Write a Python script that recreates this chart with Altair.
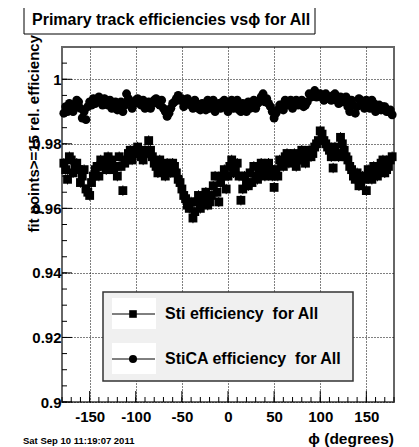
import altair as alt
import pandas as pd

# ---- data ----
phi_a = [-178, -174, -170, -166, -162, -158, -154, -150, -146, -142,
         -138, -134, -130, -126, -122, -118, -114, -110, -106, -102,
         -98, -94, -90, -86, -82, -78, -74, -70, -66, -62,
         -58, -54, -50, -46, -42, -38, -34, -30, -26, -22,
         -18, -14, -10, -6, -2, 2, 6, 10, 14, 18,
         22, 26, 30, 34, 38, 42, 46, 50, 54, 58,
         62, 66, 70, 74, 78, 82, 86, 90, 94, 98,
         102, 106, 110, 114, 118, 122, 126, 130, 134, 138,
         142, 146, 150, 154, 158, 162, 166, 170, 174, 178]

phi_b = [-176, -172, -168, -164, -160, -156, -152, -148, -144, -140,
         -136, -132, -128, -124, -120, -116, -112, -108, -104, -100,
         -96, -92, -88, -84, -80, -76, -72, -68, -64, -60,
         -56, -52, -48, -44, -40, -36, -32, -28, -24, -20,
         -16, -12, -8, -4, 0, 4, 8, 12, 16, 20,
         24, 28, 32, 36, 40, 44, 48, 52, 56, 60,
         64, 68, 72, 76, 80, 84, 88, 92, 96, 100,
         104, 108, 112, 116, 120, 124, 128, 132, 136, 140,
         144, 148, 152, 156, 160, 164, 168, 172, 176]

sti_eff_a = [0.974, 0.969, 0.975, 0.973, 0.972, 0.970, 0.966, 0.964, 0.970, 0.973,
             0.975, 0.974, 0.976, 0.975, 0.973, 0.976, 0.9655, 0.975, 0.978, 0.977,
             0.979, 0.976, 0.978, 0.981, 0.976, 0.973, 0.975, 0.972, 0.974, 0.971,
             0.973, 0.969, 0.966, 0.963, 0.960, 0.957, 0.962, 0.960, 0.963, 0.961,
             0.964, 0.970, 0.962, 0.970, 0.966, 0.973, 0.971, 0.974, 0.9625, 0.970,
             0.967, 0.968, 0.970, 0.972, 0.971, 0.973, 0.972, 0.9665, 0.970, 0.974,
             0.976, 0.974, 0.975, 0.973, 0.976, 0.975, 0.977, 0.976, 0.979, 0.981,
             0.983, 0.980, 0.978, 0.9725, 0.977, 0.982, 0.978, 0.975, 0.972, 0.969,
             0.967, 0.970, 0.9655, 0.971, 0.973, 0.970, 0.974, 0.971, 0.973, 0.976]

sti_eff_b = [0.972, 0.976, 0.971, 0.974, 0.968, 0.972, 0.965, 0.968, 0.972, 0.970,
             0.973, 0.972, 0.974, 0.972, 0.970, 0.973, 0.974, 0.977, 0.975, 0.978,
             0.977, 0.975, 0.977, 0.978, 0.974, 0.971, 0.973, 0.970, 0.972, 0.974,
             0.971, 0.968, 0.964, 0.961, 0.962, 0.959, 0.964, 0.962, 0.965, 0.962,
             0.967, 0.965, 0.968, 0.972, 0.970, 0.975, 0.972, 0.970, 0.966, 0.968,
             0.971, 0.973, 0.969, 0.974, 0.970, 0.974, 0.970, 0.972, 0.975, 0.973,
             0.977, 0.976, 0.977, 0.975, 0.978, 0.974, 0.978, 0.977, 0.980, 0.984,
             0.981, 0.979, 0.976, 0.979, 0.976, 0.980, 0.976, 0.973, 0.970, 0.971,
             0.968, 0.969, 0.972, 0.969, 0.972, 0.972, 0.975, 0.972, 0.975]

stica_eff_a = [0.9895, 0.990, 0.992, 0.9915, 0.993, 0.988, 0.9875, 0.993, 0.994, 0.9935,
               0.993, 0.994, 0.992, 0.991, 0.993, 0.9915, 0.990, 0.9955, 0.993, 0.9925,
               0.994, 0.992, 0.991, 0.993, 0.9925, 0.994, 0.992, 0.991, 0.9885, 0.991,
               0.993, 0.995, 0.994, 0.9925, 0.993, 0.991, 0.9925, 0.9905, 0.992, 0.9935,
               0.992, 0.990, 0.9925, 0.993, 0.9915, 0.9925, 0.991, 0.9935, 0.990, 0.9915,
               0.993, 0.9925, 0.991, 0.993, 0.9955, 0.994, 0.9915, 0.988, 0.9905, 0.992,
               0.9935, 0.9925, 0.991, 0.9935, 0.993, 0.9915, 0.993, 0.9945, 0.9965, 0.995,
               0.9945, 0.9955, 0.994, 0.995, 0.9935, 0.9945, 0.993, 0.9915, 0.9935, 0.9895,
               0.994, 0.9925, 0.9935, 0.991, 0.9925, 0.991, 0.9905, 0.9915, 0.990, 0.989]

stica_eff_b = [0.9915, 0.9925, 0.990, 0.9935, 0.991, 0.990, 0.9915, 0.992, 0.9925, 0.9945,
               0.992, 0.993, 0.9935, 0.992, 0.9905, 0.993, 0.992, 0.994, 0.991, 0.9935,
               0.9925, 0.9935, 0.9925, 0.991, 0.9935, 0.9925, 0.9935, 0.990, 0.9895, 0.9925,
               0.994, 0.9935, 0.9915, 0.994, 0.992, 0.9935, 0.991, 0.9925, 0.9905, 0.991,
               0.9935, 0.9915, 0.991, 0.9935, 0.990, 0.9935, 0.9925, 0.9905, 0.9925, 0.990,
               0.991, 0.9935, 0.9925, 0.9945, 0.993, 0.9925, 0.990, 0.9895, 0.992, 0.9905,
               0.992, 0.9935, 0.9925, 0.992, 0.9935, 0.992, 0.9955, 0.9955, 0.9945, 0.9955,
               0.9935, 0.994, 0.9935, 0.9955, 0.9925, 0.993, 0.9945, 0.990, 0.992, 0.9915,
               0.9935, 0.991, 0.9925, 0.9935, 0.990, 0.992, 0.9915, 0.990, 0.9905]

sti_err = 0.0016
stica_err = 0.0012

x_major = [-150, -100, -50, 0, 50, 100, 150]
x_minor = [-180, -170, -160, -150, -140, -130, -120, -110, -100, -90, -80, -70, -60,
           -50, -40, -30, -20, -10, 0, 10, 20, 30, 40, 50, 60, 70, 80, 90, 100,
           110, 120, 130, 140, 150, 160, 170, 180]
y_major = [0.9, 0.92, 0.94, 0.96, 0.98, 1.0]
y_minor = [0.9, 0.905, 0.91, 0.915, 0.92, 0.925, 0.93, 0.935, 0.94, 0.945, 0.95,
           0.955, 0.96, 0.965, 0.97, 0.975, 0.98, 0.985, 0.99, 0.995, 1.0, 1.005]

title_text = "Primary track efficiencies vs\u03d5 for All"
y_title = "fit points>=15 rel. efficiency"
x_title = "\u03d5 (degrees)"
date_text = "Sat Sep 10 11:19:07 2011"
legend_labels = ["Sti efficiency\u00a0 for All", "StiCA efficiency\u00a0 for All"]

# ---- layout ----
W, H = 332, 355
FONT = "Liberation Sans"

xs = alt.Scale(domain=[-180, 180], nice=False, zero=False)
ys = alt.Scale(domain=[0.9, 1.01], nice=False, zero=False)

sti_df = pd.DataFrame({"phi": phi_a + phi_b, "eff": sti_eff_a + sti_eff_b})
sti_df["err"] = sti_err
ca_df = pd.DataFrame({"phi": phi_a + phi_b, "eff": stica_eff_a + stica_eff_b})
ca_df["err"] = stica_err
one = pd.DataFrame({"k": [0]})

x_axis = alt.Axis(values=x_major, grid=True, gridDash=[1, 2], gridColor="black",
                  gridOpacity=1, gridWidth=1, ticks=False, domain=False,
                  labelFont=FONT, labelFontSize=15, labelFontWeight="bold",
                  labelColor="black", labelPadding=7, labelFlush=False,
                  labelExpr="datum.value + ''", title=None)
y_axis = alt.Axis(values=y_major, grid=True, gridDash=[1, 2], gridColor="black",
                  gridOpacity=1, gridWidth=1, ticks=False, domain=False,
                  labelFont=FONT, labelFontSize=15, labelFontWeight="bold",
                  labelColor="black", labelPadding=1, labelFlush=False,
                  format=".2~f", title=None)

def err_layer(df):
    return alt.Chart(df).transform_calculate(
        lo="datum.eff - datum.err", hi="datum.eff + datum.err"
    ).mark_rule(color="black", strokeWidth=1).encode(
        x=alt.X("phi:Q", scale=xs, axis=x_axis),
        y=alt.Y("lo:Q", scale=ys, axis=y_axis),
        y2="hi:Q",
    )

ca_err = err_layer(ca_df)
sti_errl = err_layer(sti_df)

ca_pts = alt.Chart(ca_df).mark_point(shape="circle", filled=True, size=80,
                                      color="black", opacity=1).encode(
    x=alt.X("phi:Q", scale=xs, axis=x_axis),
    y=alt.Y("eff:Q", scale=ys, axis=y_axis),
)
sti_pts = alt.Chart(sti_df).mark_point(shape="square", filled=True, size=78,
                                        color="black", opacity=1).encode(
    x=alt.X("phi:Q", scale=xs, axis=x_axis),
    y=alt.Y("eff:Q", scale=ys, axis=y_axis),
)

# inward ticks
xt_minor = alt.Chart(pd.DataFrame({"v": x_minor})).mark_rule(color="black").encode(
    x=alt.X("v:Q", scale=xs, axis=x_axis), y=alt.value(H), y2=alt.value(H - 5))
xt_major = alt.Chart(pd.DataFrame({"v": x_major})).mark_rule(color="black").encode(
    x=alt.X("v:Q", scale=xs, axis=x_axis), y=alt.value(H), y2=alt.value(H - 11))
yt_minor = alt.Chart(pd.DataFrame({"v": y_minor})).mark_rule(color="black").encode(
    y=alt.Y("v:Q", scale=ys, axis=y_axis), x=alt.value(0), x2=alt.value(5))
yt_major = alt.Chart(pd.DataFrame({"v": y_major})).mark_rule(color="black").encode(
    y=alt.Y("v:Q", scale=ys, axis=y_axis), x=alt.value(0), x2=alt.value(10))

# title box
title_box = alt.Chart(one).mark_rect(fill="white", stroke="black", strokeWidth=1).encode(
    x=alt.value(-38), x2=alt.value(253), y=alt.value(-44), y2=alt.value(-13))
title_txt = alt.Chart(one).mark_text(font=FONT, fontSize=16, fontWeight="bold",
                                      align="left", baseline="alphabetic", color="black").encode(
    x=alt.value(-30), y=alt.value(-22), text=alt.value(title_text))

ytitle = alt.Chart(one).mark_text(font=FONT, fontSize=15, fontWeight="bold", angle=270,
                                   align="right", baseline="middle", color="black").encode(
    x=alt.value(-28), y=alt.value(-12), text=alt.value(y_title))
xtitle = alt.Chart(one).mark_text(font=FONT, fontSize=15.5, fontWeight="bold",
                                   align="right", baseline="alphabetic", color="black").encode(
    x=alt.value(332), y=alt.value(397), text=alt.value(x_title))
date = alt.Chart(one).mark_text(font=FONT, fontSize=9.5, fontWeight="bold",
                                 align="left", baseline="middle", color="black").encode(
    x=alt.value(-39), y=alt.value(394), text=alt.value(date_text))

# legend
leg_box = alt.Chart(one).mark_rect(fill="#f0f0f0", stroke="#333333", strokeWidth=1.5).encode(
    x=alt.value(41), x2=alt.value(291), y=alt.value(245), y2=alt.value(334))
leg_icon1 = alt.Chart(one).mark_rect(fill="white").encode(
    x=alt.value(50), x2=alt.value(94), y=alt.value(251), y2=alt.value(282))
leg_icon2 = alt.Chart(one).mark_rect(fill="white").encode(
    x=alt.value(50), x2=alt.value(94), y=alt.value(296), y2=alt.value(327))
leg_line1 = alt.Chart(one).mark_rule(color="black").encode(
    x=alt.value(50), x2=alt.value(93), y=alt.value(267))
leg_line2 = alt.Chart(one).mark_rule(color="black").encode(
    x=alt.value(50), x2=alt.value(93), y=alt.value(312))
leg_sq = alt.Chart(one).mark_point(shape="square", filled=True, size=58, color="black",
                                   opacity=1).encode(x=alt.value(71), y=alt.value(267))
leg_ci = alt.Chart(one).mark_point(shape="circle", filled=True, size=64, color="black",
                                   opacity=1).encode(x=alt.value(71), y=alt.value(312))
leg_t1 = alt.Chart(one).mark_text(font=FONT, fontSize=16, fontWeight="bold", align="left",
                                  baseline="middle", color="black").encode(
    x=alt.value(103), y=alt.value(267), text=alt.value(legend_labels[0]))
leg_t2 = alt.Chart(one).mark_text(font=FONT, fontSize=16, fontWeight="bold", align="left",
                                  baseline="middle", color="black").encode(
    x=alt.value(103), y=alt.value(312), text=alt.value(legend_labels[1]))

chart = alt.layer(
    ca_pts, ca_err, sti_errl, sti_pts,
    xt_minor, xt_major, yt_minor, yt_major,
    leg_box, leg_icon1, leg_icon2, leg_line1, leg_line2, leg_sq, leg_ci, leg_t1, leg_t2,
    title_box, title_txt, ytitle, xtitle, date,
).properties(
    width=W, height=H,
    autosize=alt.AutoSizeParams(type="none"),
    padding={"left": 54, "top": 39, "right": 17, "bottom": 45},
).configure_view(stroke="#666666", strokeWidth=2)

chart.save("out.html", embed_options={"renderer": "svg", "actions": False})
